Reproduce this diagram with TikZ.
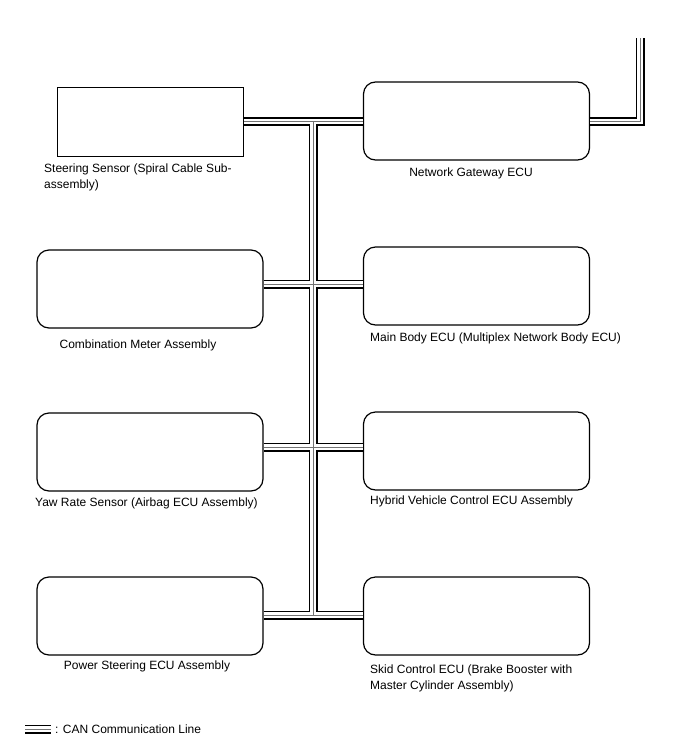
\documentclass[tikz,border=0pt]{standalone}
\usepackage{fontspec}
\setmainfont{Liberation Sans}
\begin{document}
\begin{tikzpicture}[x=1pt,y=-1pt,
  box/.style={draw, line width=1.2pt, rounded corners=12pt, inner sep=0pt, minimum width=226pt, minimum height=78pt},
  sbox/.style={draw, line width=1pt, inner sep=0pt, minimum width=186pt, minimum height=69pt},
  lbl/.style={font=\fontsize{12}{16}\selectfont, inner sep=0pt, align=left},
  canout/.style={line width=9pt, black},
  canmid/.style={line width=5.5pt, white},
  canin/.style={line width=0.8pt, black!55},
]
\useasboundingbox (0,0) rectangle (688,755);
\fill[white] (0,0) rectangle (688,755);

% boxes
\node[sbox] (ss) at (150,121.5) {};
\node[box] (gw) at (476.5,121) {};
\node[box] (cm) at (150,289) {};
\node[box] (mb) at (476.5,286) {};
\node[box] (yaw) at (150,452) {};
\node[box] (hv) at (476.5,451) {};
\node[box] (ps) at (150,616) {};
\node[box] (sk) at (476.5,616) {};

% junctions
\coordinate (j1) at (313,121.5);
\coordinate (j2) at (313,284);
\coordinate (j3) at (313,447);
\coordinate (j4) at (313,615);
\coordinate (top) at (640,38);
\coordinate (lg1) at (25,729);
\coordinate (lg2) at (51,729);

% CAN bus
\foreach \s in {canout,canmid,canin}{
  \draw[\s] (ss.east |- j1) -- (gw.west |- j1)
    (j1) -- (j4)
    (cm.east |- j2) -- (mb.west |- j2)
    (yaw.east |- j3) -- (hv.west |- j3)
    (ps.east |- j4) -- (sk.west |- j4)
    (gw.east |- j1) -| (top)
    (lg1) -- (lg2);
}

% labels
\node[lbl, anchor=west] (ssl) at (44,177) {Steering Sensor (Spiral Cable Sub-\\assembly)};
\node[lbl] (gwl) at (471,173) {Network Gateway ECU};
\node[lbl] (cml) at (138,345) {Combination Meter Assembly};
\node[lbl, anchor=west] (mbl) at (370,338) {Main Body ECU (Multiplex Network Body ECU)};
\node[lbl, anchor=west] (yawl) at (35,503) {Yaw Rate Sensor (Airbag ECU Assembly)};
\node[lbl, anchor=west] (hvl) at (370,501) {Hybrid Vehicle Control ECU Assembly};
\node[lbl] (psl) at (147,666) {Power Steering ECU Assembly};
\node[lbl, anchor=west] (skl) at (370,678) {Skid Control ECU (Brake Booster with\\Master Cylinder Assembly)};
\node[lbl, anchor=west] (lgl) at (55,729) {: CAN Communication Line};
\end{tikzpicture}
\end{document}
